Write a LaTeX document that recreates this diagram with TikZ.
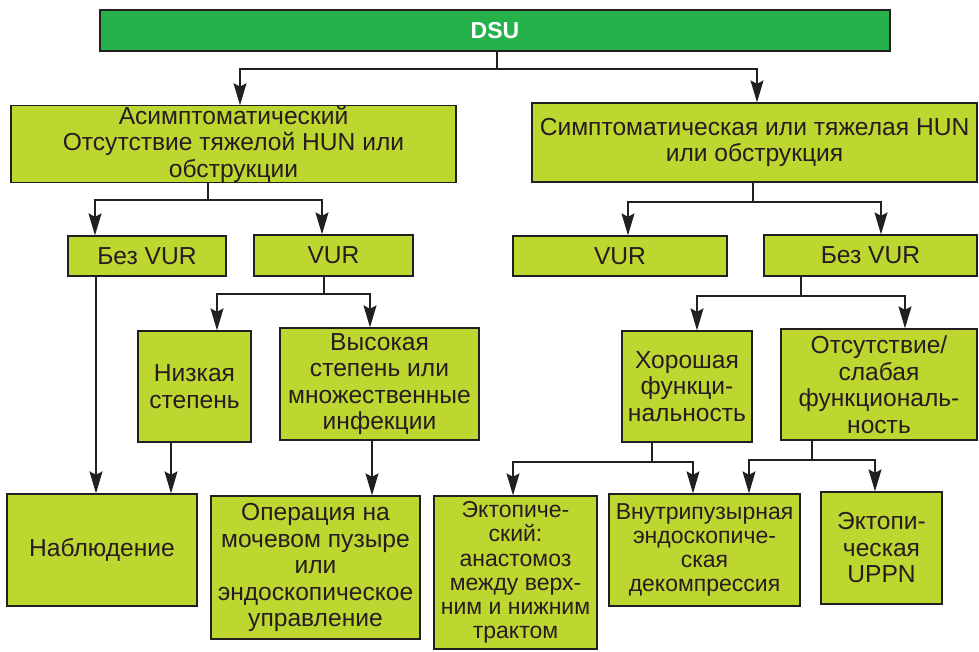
\documentclass[tikz,border=0pt]{standalone}
\usepackage{fontspec}
\setmainfont{Liberation Sans}
\usetikzlibrary{arrows.meta}
\definecolor{dsugreen}{RGB}{37,178,75}
\definecolor{boxlime}{RGB}{190,214,48}
\definecolor{edge}{RGB}{35,31,32}

\begin{document}
\begin{tikzpicture}[x=1pt, y=-1pt,
    box/.style={draw=edge, line width=1.3pt, fill=boxlime, align=center, inner sep=0pt,
                font=\fontsize{24.6}{26.5}\selectfont, text=edge},
    small/.style={font=\fontsize{23}{24.3}\selectfont},
    ln/.style={draw=edge, line width=1.2pt},
    arr/.style={ln, -{Stealth[length=22pt, width=13pt, inset=3.5pt]}}]
  \useasboundingbox (0,0) rectangle (979,651);
  % Корень
  \node[box, fill=dsugreen, text=white, font=\fontsize{23}{26}\selectfont\bfseries,
        minimum width=790, minimum height=41] (dsu) at (495,30.5) {DSU};
  % Уровень 1
  \node[box, minimum width=445, minimum height=76] (asym) at (233.5,144)
        {Асимптоматический\\Отсутствие тяжелой HUN или\\обструкции};
  \node[box, minimum width=445, minimum height=79] (sympt) at (754.5,142.5)
        {Симптоматическая или тяжелая HUN\\или обструкция};
  % Уровень 2
  \node[box, minimum width=158, minimum height=40] (novurl) at (147,256) {Без VUR};
  \node[box, minimum width=159, minimum height=41] (vurl) at (333.5,255.5) {VUR};
  \node[box, minimum width=214, minimum height=40] (vurr) at (620,256) {VUR};
  \node[box, minimum width=213, minimum height=41] (novurr) at (870.5,255.5) {Без VUR};
  % Уровень 3
  \node[box, minimum width=113, minimum height=111] (low) at (194.5,386.5)
        {Низкая\\степень};
  \node[box, minimum width=199, minimum height=112] (high) at (379.5,384)
        {Высокая\\степень или\\множественные\\инфекции};
  \node[box, minimum width=130, minimum height=111] (good) at (687,386.5)
        {Хорошая\\функци-\\нальность};
  \node[box, minimum width=196, minimum height=111] (poor) at (879,384.5)
        {Отсутствие/\\слабая\\функциональ-\\ность};
  % Уровень 4
  \node[box, minimum width=190, minimum height=112] (obs) at (102,550) {Наблюдение};
  \node[box, minimum width=209, minimum height=143] (oper) at (315.5,567.5)
        {Операция на\\мочевом пузыре\\или\\эндоскопическое\\управление};
  \node[box, small, minimum width=163, minimum height=153] (ecta) at (515.5,572.5)
        {Эктопиче-\\ский:\\анастомоз\\между верх-\\ним и нижним\\трактом};
  \node[box, small, minimum width=191, minimum height=112] (intra) at (704.5,550)
        {Внутрипузырная\\эндоскопиче-\\ская\\декомпрессия};
  \node[box, minimum width=121, minimum height=112] (ectu) at (881.5,548)
        {Эктопи-\\ческая\\UPPN};
  % Связи
  \coordinate (j0) at (497,69);
  \draw[ln] (dsu.south -| j0) -- (j0);
  \draw[arr] (j0) -| (asym.north -| 240,0);
  \draw[arr] (j0) -| (sympt.north -| 757,0);
  \coordinate (j1) at (208,200);
  \draw[ln] (asym.south -| j1) -- (j1);
  \draw[arr] (j1) -| (novurl.north -| 95,0);
  \draw[arr] (j1) -| (vurl.north -| 322,0);
  \coordinate (j2) at (753,202);
  \draw[ln] (sympt.south -| j2) -- (j2);
  \draw[arr] (j2) -| (vurr.north -| 628,0);
  \draw[arr] (j2) -| (novurr.north -| 881,0);
  \coordinate (j3) at (324,294);
  \draw[ln] (vurl.south -| j3) -- (j3);
  \draw[arr] (j3) -| (low.north -| 217,0);
  \draw[arr] (j3) -| (high.north -| 370,0);
  \coordinate (j4) at (801,296);
  \draw[ln] (novurr.south -| j4) -- (j4);
  \draw[arr] (j4) -| (good.north -| 697,0);
  \draw[arr] (j4) -| (poor.north -| 905,0);
  \draw[arr] (novurl.south -| 96,0) -- (obs.north -| 96,0);
  \draw[arr] (low.south -| 171,0) -- (obs.north -| 171,0);
  \draw[arr] (high.south -| 372,0) -- (oper.north -| 372,0);
  \coordinate (j5) at (652,462);
  \draw[ln] (good.south -| j5) -- (j5);
  \draw[arr] (j5) -| (ecta.north -| 513,0);
  \draw[arr] (j5) -| (intra.north -| 693,0);
  \coordinate (j6) at (812,460);
  \draw[ln] (poor.south -| j6) -- (j6);
  \draw[arr] (j6) -| (intra.north -| 749,0);
  \draw[arr] (j6) -| (ectu.north -| 875,0);
\end{tikzpicture}
\end{document}
